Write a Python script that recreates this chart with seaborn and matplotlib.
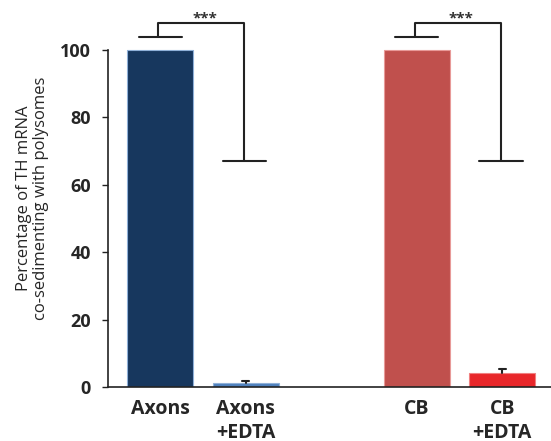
import matplotlib
matplotlib.use("Agg")
import matplotlib.pyplot as plt
import seaborn as sns
import pandas as pd
import numpy as np

categories = ["Axons", "Axons\n+EDTA", "CB", "CB\n+EDTA"]
positions = [0, 1, 3, 4]
values = [100, 1.2, 100, 4.2]
errors = [4, 0.6, 4, 1.1]
colors = ["#17375e", "#4f81bd", "#c0504d", "#e8272a"]
edge_colors = ["#8fb0d8", "#8fb0d8", "#e89a98", "#f08080"]
ylabel = "Percentage of TH mRNA\nco-sedimenting with polysomes"
yticks = [0, 20, 40, 60, 80, 100]
# significance brackets: (left pos, right pos, top y, right drop y, label)
brackets = [(0, 1, 108, 67, "***"), (3, 4, 108, 67, "***")]

sns.set_style("white")
plt.rcParams['font.family'] = ['Open Sans', 'DejaVu Sans']

df = pd.DataFrame({"pos": positions, "val": values, "cat": categories})

fig = plt.figure(figsize=(5.51, 4.41), dpi=100)
ax = fig.add_axes([108/551, 1 - 387/441, 1 - 108/551, (387 - 10)/441])

sns.barplot(data=df, x="pos", y="val", hue="cat", native_scale=True,
            palette=dict(zip(categories, colors)), width=0.77, dodge=False,
            saturation=1, legend=False, errorbar=None, ax=ax, linewidth=0.8)
for patch, ec in zip(ax.patches, edge_colors):
    patch.set_edgecolor(ec)

lc = "#222222"
# error bars
for p, v, e in zip(positions, values, errors):
    if v > 50:
        capw = 0.25
    else:
        capw = 0.04
        ax.plot([p, p], [v, v + e], color=lc, lw=1.5, zorder=3)
    ax.plot([p - capw, p + capw], [v + e, v + e], color=lc, lw=1.5, zorder=3)

# significance brackets
for l, r, top, drop, lab in brackets:
    i = positions.index(l)
    lx = l - 0.02
    rx = r - 0.02
    ax.plot([lx, lx, rx, rx], [values[i] + errors[i], top, top, drop],
            color=lc, lw=1.5, zorder=3, solid_capstyle="butt")
    ax.plot([r - 0.27, r + 0.24], [drop, drop], color=lc, lw=1.5, zorder=3)
    ax.text((l + r) / 2 + 0.02, top - 0.8, lab, ha="center", va="bottom",
            fontsize=11, fontweight="bold", color="#333333")

ax.set_xlim(-0.61, 4.57)
ax.set_ylim(0, 111.9)
ax.set_yticks(yticks)
ax.set_yticklabels([str(t) for t in yticks], fontsize=13, fontweight="bold")
ax.set_xticks(positions)
ax.set_xticklabels(categories, fontsize=14, fontweight="bold", linespacing=1.2)
ax.tick_params(axis="x", length=0, pad=9)
ax.tick_params(axis="y", length=4.5, width=1, direction="out", left=True, pad=8, color=lc)
ax.set_xlabel("")
ax.set_ylabel(ylabel, fontsize=12, labelpad=8, linespacing=1.05)

for s in ["top", "right"]:
    ax.spines[s].set_visible(False)
ax.spines["left"].set_bounds(0, 100)
for s in ["left", "bottom"]:
    ax.spines[s].set_color(lc)
    ax.spines[s].set_linewidth(1.2)

fig.savefig("out.png", dpi=100)
